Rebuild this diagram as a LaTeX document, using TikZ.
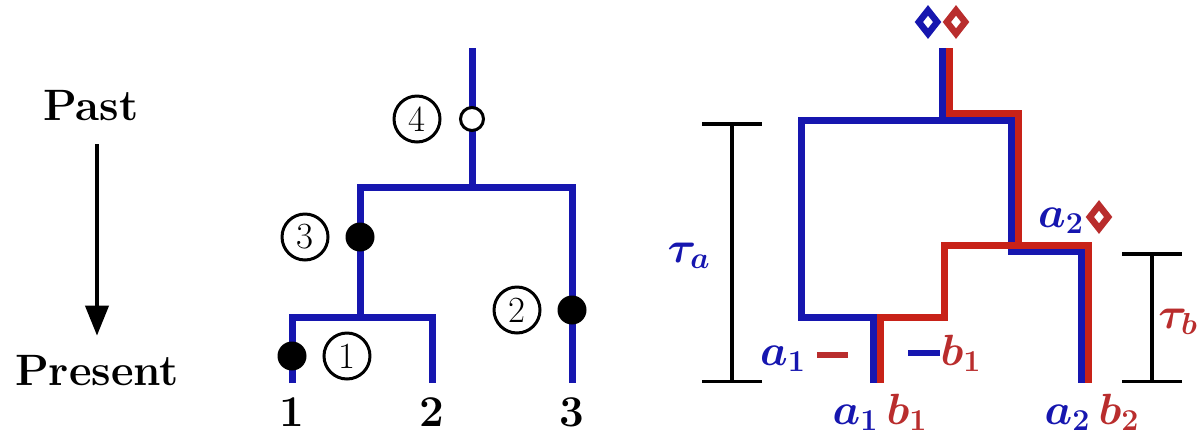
\documentclass[tikz,border=0pt]{standalone}
\usepackage{amsmath}
\usepackage{amssymb}
\usetikzlibrary{positioning, arrows.meta, shapes.geometric}

\definecolor{lineageA}{RGB}{22,22,175}
\definecolor{lineageB}{RGB}{200,34,24}
\definecolor{labelB}{RGB}{185,45,45}

\begin{document}
\begin{tikzpicture}[
        x=0.02cm, y=-0.02cm,
        >={Triangle[length=0.6cm, width=0.46cm]},
        node distance=1.1cm,
        on grid,
        branch/.style={draw=lineageA, line width=0.14cm},
        genea/.style={draw=lineageA, line width=0.14cm},
        geneb/.style={draw=lineageB, line width=0.14cm},
        fulldot/.style={circle, fill=black, minimum size=0.58cm, inner sep=0pt},
        opendot/.style={circle, draw, fill=white, line width=0.06cm, minimum size=0.46cm, inner sep=0pt},
        ring/.style={circle, draw, line width=0.06cm, minimum size=0.92cm, inner sep=0pt, font=\fontsize{21}{23}\selectfont},
        big/.style={font=\fontsize{25}{28}\selectfont\bfseries, anchor=base},
        allele/.style={font=\fontsize{24}{28}\selectfont\boldmath, anchor=base},
        gem/.style={diamond, draw=#1, fill=white, line width=0.13cm, minimum width=0.42cm, minimum height=0.52cm, inner sep=0pt},
        timespan/.style={line width=0.07cm, {Bar[width=1.2cm]}-{Bar[width=1.2cm]}},
        bardash/.style={line width=0.12cm}
    ]
    \useasboundingbox (0,0) rectangle (1200,437);

    % time direction
    \node[big] (past) at (91,120) {Past};
    \node[big] (present) at (97,385) {Present};
    \draw[->, line width=0.08cm, shorten <=0.36cm, shorten >=0.26cm] (past.south -| present.north) -- (present.north);

    % tree of the three samples
    \coordinate (root) at (472,48);
    \coordinate (c123) at (472,187);
    \coordinate (c12) at (360,317);
    \coordinate (s1) at (292,383);
    \coordinate (s2) at (432,383);
    \coordinate (s3) at (572,383);
    \draw[branch] (root) -- (c123);
    \draw[branch] (c12) |- (c123) -| (s3);
    \draw[branch] (s1) |- (c12) -| (s2);

    \node[opendot] (m4) at (472,119) {};
    \node[ring, left=of m4] (r4) {4};
    \node[fulldot] (m3) at (360,237) {};
    \node[ring, left=of m3] (r3) {3};
    \node[fulldot] (m2) at (572,310) {};
    \node[ring, left=of m2] (r2) {2};
    \node[fulldot] (m1) at (292,356) {};
    \node[ring, right=of m1] (r1) {1};

    \node[big] (n1) at (292,426) {1};
    \node[big] (n2) at (432,426) {2};
    \node[big] (n3) at (572,426) {3};

    % two gene trees, a in blue and b in red
    \coordinate (atop) at (942,48);
    \coordinate (aL) at (801,120);
    \coordinate (aR) at (1011,120);
    \coordinate (a1) at (873,383);
    \coordinate (a2) at (1081,383);
    \draw[genea] (atop) -- (atop |- aR);
    \draw[genea] (a1) |- (801,317) -- (aL) -- (aR) |- (1081,251) -- (a2);

    \coordinate (btop) at (949,48);
    \coordinate (b1) at (880,383);
    \coordinate (b2) at (1088,383);
    \draw[geneb] (btop) |- (1018,113) -- (1018,245);
    \draw[geneb] (b1) |- (944,317) |- (1088,245) -- (b2);

    \node[gem=lineageA] (da) at (928,22) {};
    \node[gem=labelB] (db) at (956,22) {};

    \node[allele, text=lineageA] (la2) at (1061,227) {$a_2$};
    \node[gem=labelB] (db2) at (1099,217) {};

    \node[allele, text=lineageA] (la1) at (783,365) {$a_1$};
    \draw[bardash, draw=labelB] (817,355) -- (848,355);
    \draw[bardash, draw=lineageA] (908,353) -- (940,353);
    \node[allele, text=labelB] (lb1) at (961,365) {$b_1$};

    \node[allele] (l11) at (880,424) {${\color{lineageA}a_1}\,{\color{labelB}b_1}$};
    \node[allele] (l22) at (1092,424) {${\color{lineageA}a_2}\,{\color{labelB}b_2}$};

    % coalescence times
    \coordinate (ta) at (732,122);
    \coordinate (ta0) at (732,383);
    \draw[timespan] (ta) -- (ta0);
    \node[allele, text=lineageA] (tauA) at (689,262) {$\tau_a$};

    \coordinate (tb) at (1152,252);
    \coordinate (tb0) at (1152,383);
    \draw[timespan] (tb) -- (tb0);
    \node[allele, text=labelB] (tauB) at (1178,328) {$\tau_b$};
\end{tikzpicture}
\end{document}
